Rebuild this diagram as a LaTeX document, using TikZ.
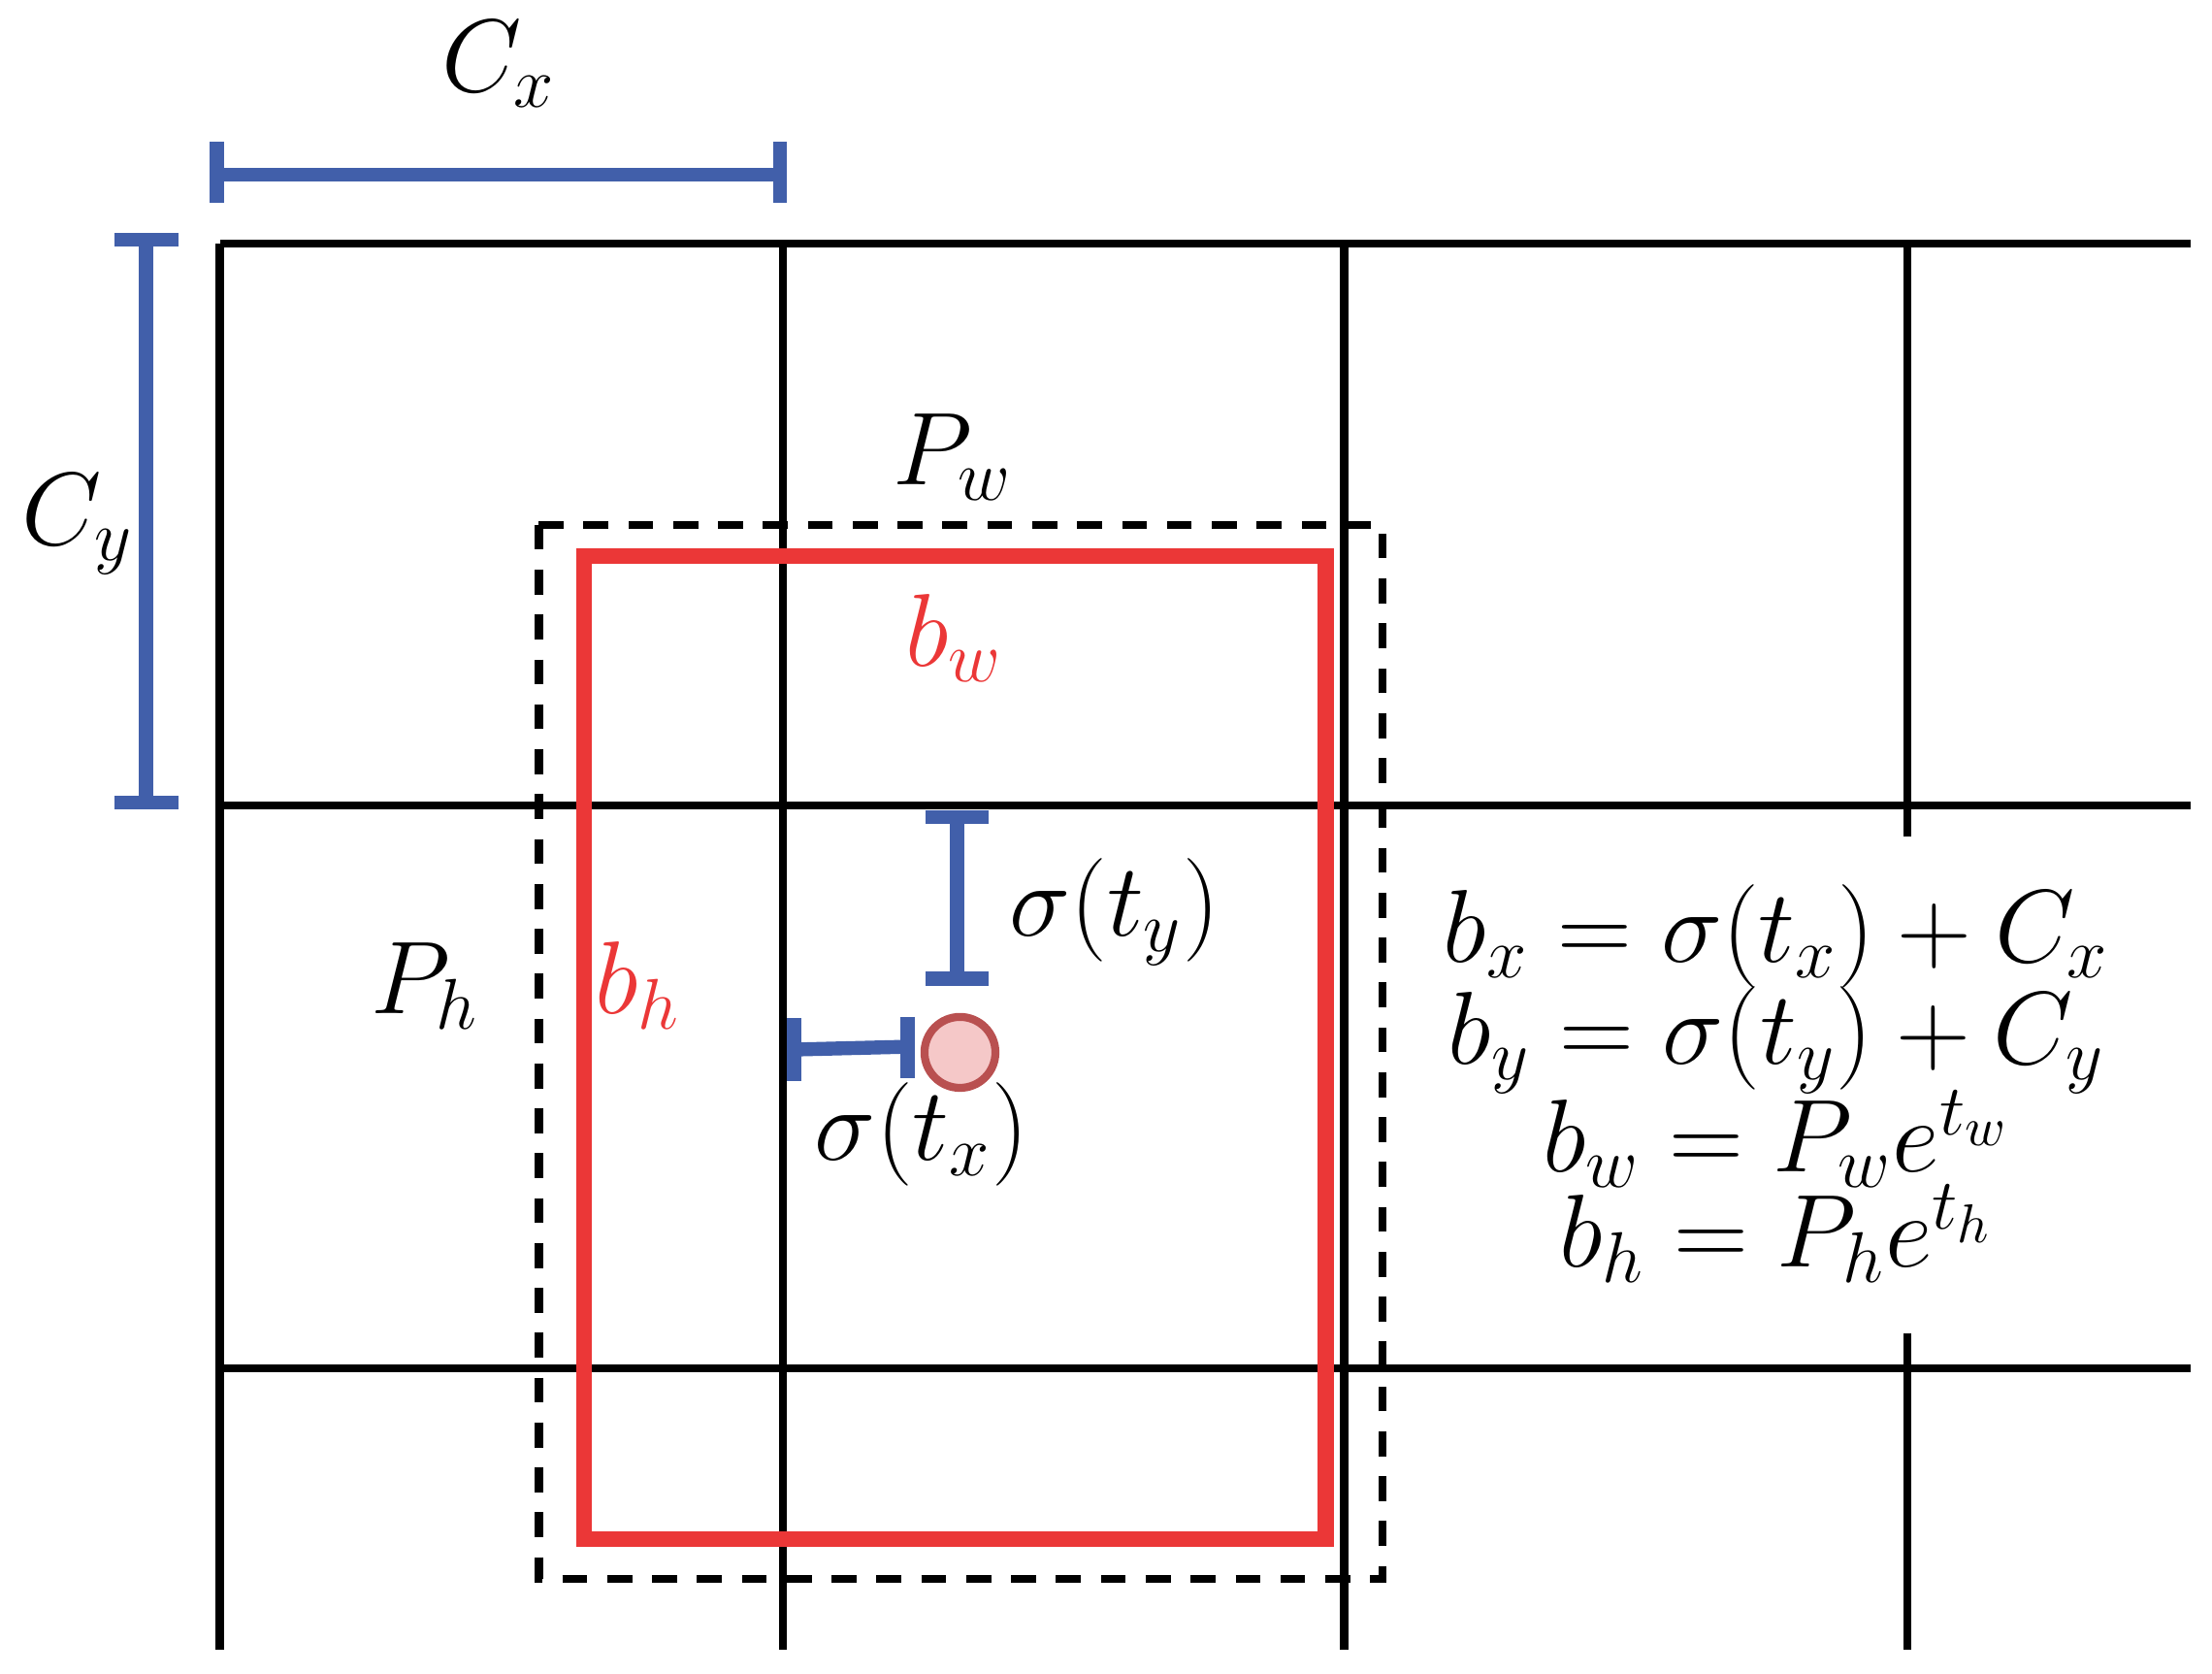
\documentclass[tikz,border=0pt]{standalone}
\usepackage{amsmath}
\begin{document}
\definecolor{bl}{RGB}{65,95,170}
\definecolor{rd}{RGB}{235,55,55}
\definecolor{pk}{RGB}{245,200,200}
\definecolor{pks}{RGB}{185,80,80}
\begin{tikzpicture}[x=0.01cm,y=-0.01cm,
 grid/.style={line width=1.6pt,black},
 bar/.style={line width=2.8pt,bl},
 lbl/.style={font=\fontsize{22}{26}\selectfont},
 eq/.style={font=\fontsize{22}{26}\selectfont, align=center, inner sep=0pt}]
\useasboundingbox (0,0) rectangle (1560,1180);
% grid
\foreach \y/\n in {172/h1,568/h2,965/h3} \draw[grid] (155,\y) coordinate (\n a) -- (1545,\y) coordinate (\n b);
\foreach \x in {155,552,948} \draw[grid] (\x,172) -- (\x,1163);
\draw[grid] (1345,172) -- (1345,590);
\draw[grid] (1345,940) -- (1345,1163);
% boxes
\draw[line width=1.6pt,dash pattern=on 5pt off 4pt] (380,370) rectangle (975,1113);
\draw[line width=3.2pt,rd] (412,392) rectangle (935,1085);
% bars
\coordinate (cx1) at (153,123); \coordinate (cx2) at (550,123);
\draw[bar] (cx1) -- (cx2);
\draw[bar] (153,100) -- (153,143); \draw[bar] (550,100) -- (550,143);
\coordinate (cy1) at (103,169); \coordinate (cy2) at (103,566);
\draw[bar] (cy1) -- (cy2);
\draw[bar] (81,169) -- (126,169); \draw[bar] (81,566) -- (126,566);
\coordinate (ty1) at (675,576); \coordinate (ty2) at (675,690);
\draw[bar] (ty1) -- (ty2);
\draw[bar] (653,576) -- (697,576); \draw[bar] (653,690) -- (697,690);
\coordinate (tx1) at (560,740); \coordinate (tx2) at (640,738);
\draw[bar] (tx1) -- (tx2);
\draw[bar] (560,718) -- (560,762); \draw[bar] (640,717) -- (640,760);
\node[circle,draw=pks,fill=pk,line width=1.6pt,minimum size=0.5cm,inner sep=0] (c) at (677,742) {};
% labels
\node[lbl] (lcx) at (352,45) {$C_x$};
\node[lbl] (lcy) at (55,370) {$C_y$};
\node[lbl] (lpw) at (672,322) {$P_w$};
\node[lbl,rd] (lbw) at (673,450) {$b_w$};
\node[lbl] (lph) at (300,695) {$P_h$};
\node[lbl,rd] (lbh) at (450,695) {$b_h$};
\node[lbl] (lty) at (786,643) {$\sigma(t_y)$};
\node[lbl] (ltx) at (650,800) {$\sigma(t_x)$};
\node[eq] (e1) at (1253,660) {$b_x=\sigma(t_x)+C_x$};
\node[eq] (e2) at (1253,733) {$b_y=\sigma(t_y)+C_y$};
\node[eq] (e3) at (1253,803) {$b_w=P_we^{t_w}$};
\node[eq] (e4) at (1253,870) {$b_h=P_he^{t_h}$};
\end{tikzpicture}
\end{document}
